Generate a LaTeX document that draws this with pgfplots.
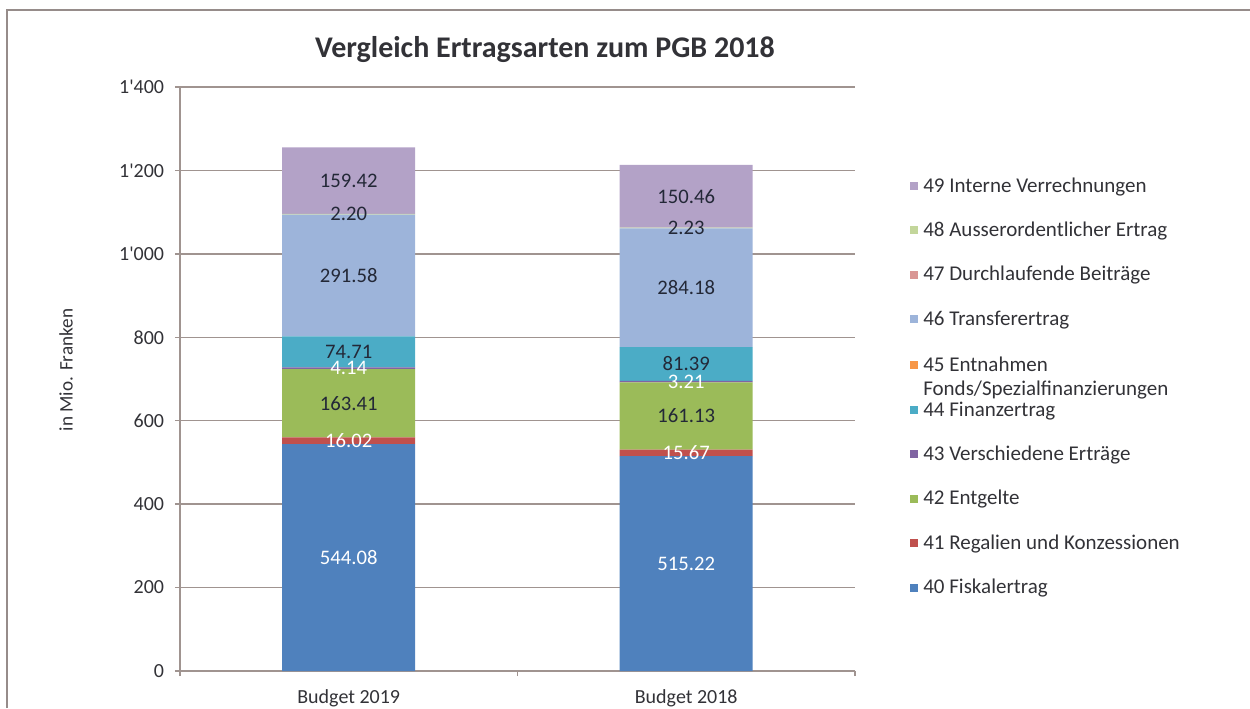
\documentclass[border=0pt]{standalone}
\usepackage{pgfplots}
\pgfplotsset{compat=1.18}
\usepackage{fontspec}
\setmainfont{Carlito}
\definecolor{c40}{HTML}{4F81BD}
\definecolor{c41}{HTML}{C0504D}
\definecolor{c42}{HTML}{9BBB59}
\definecolor{c43}{HTML}{8064A2}
\definecolor{c44}{HTML}{4BACC6}
\definecolor{c45}{HTML}{F79646}
\definecolor{c46}{HTML}{9DB4DA}
\definecolor{c47}{HTML}{D99694}
\definecolor{c48}{HTML}{C3D69B}
\definecolor{c49}{HTML}{B3A2C7}
\definecolor{gridc}{RGB}{160,148,144}
\definecolor{txtc}{RGB}{50,50,55}
\definecolor{lblc}{RGB}{35,40,55}
\definecolor{framec}{RGB}{150,140,138}
\begin{document}
\begin{tikzpicture}[x=0.6pt,y=0.6pt]
\path[use as bounding box] (0,0) rectangle (1250,708);
\draw[framec, line width=1pt] (7,0) -- (7,698) -- (1250,698);
\node[font=\fontsize{18}{21}\selectfont\bfseries, text=txtc] at (545,658) {Vergleich Ertragsarten zum PGB 2018};
\node[rotate=90, font=\fontsize{11.5}{13}\selectfont, text=txtc] at (66,338) {in Mio. Franken};
\begin{axis}[
  at={(108pt,22.2pt)}, anchor=south west,
  scale only axis, width=405pt, height=350.4pt,
  ybar stacked, bar width=79.8pt,
  /pgf/number format/assume math mode=true,
  xmin=-0.5, xmax=1.5,
  xtick={0,1}, xticklabels={Budget 2019,Budget 2018},
  minor xtick={-0.5,0.5,1.5},
  ymin=0, ymax=1400,
  ytick={0,200,400,600,800,1000,1200,1400},
  yticklabels={0,200,400,600,800,1\textquotesingle000,1\textquotesingle200,1\textquotesingle400},
  ymajorgrids, grid style={color=gridc, line width=0.8pt},
  axis x line*=bottom, axis y line*=left,
  axis line style={color=gridc, line width=0.8pt, -},
  tick align=outside,
  major x tick style={draw=none},
  minor x tick style={color=gridc, line width=0.8pt},
  minor tick length=3pt,
  major tick length=3pt,
  y tick style={color=gridc, line width=0.8pt},
  tick label style={font=\fontsize{12}{14}\selectfont, text=txtc},
  yticklabel style={xshift=-3pt},
  xticklabel style={yshift=-4.5pt},
  visualization depends on={rawy \as \rawy},
  nodes near coords style={anchor=center, font=\fontsize{12.4}{14}\selectfont},
  legend style={at={(rel axis cs:1.074,0.857)}, anchor=north west, draw=none, fill=none,
     font=\fontsize{12.6}{14.4}\selectfont, text=txtc, row sep=12.4pt,
     /tikz/every odd column/.append style={column sep=1pt}},
  legend cell align=left,
  reverse legend,
  legend image code/.code={\fill[#1,draw=none] (0pt,-2.4pt) rectangle (4.8pt,2.4pt);},
]
\addplot[fill=c40, draw=none, nodes near coords={\pgfmathprintnumber[fixed,fixed zerofill,precision=2]{\rawy}}, every node near coord/.append style={text=white}]
  coordinates {(0,544.08) (1,515.22)};
\addplot[fill=c41, draw=none, nodes near coords={\pgfmathprintnumber[fixed,fixed zerofill,precision=2]{\rawy}}, every node near coord/.append style={text=white}]
  coordinates {(0,16.02) (1,15.67)};
\addplot[fill=c42, draw=none, nodes near coords={\pgfmathprintnumber[fixed,fixed zerofill,precision=2]{\rawy}}, every node near coord/.append style={text=lblc}]
  coordinates {(0,163.41) (1,161.13)};
\addplot[fill=c43, draw=none, nodes near coords={\pgfmathprintnumber[fixed,fixed zerofill,precision=2]{\rawy}}, every node near coord/.append style={text=white}]
  coordinates {(0,4.14) (1,3.21)};
\addplot[fill=c44, draw=none, nodes near coords={\pgfmathprintnumber[fixed,fixed zerofill,precision=2]{\rawy}}, every node near coord/.append style={text=lblc}]
  coordinates {(0,74.71) (1,81.39)};
\addplot[fill=c45, draw=none]
  coordinates {(0,0) (1,0)};
\addplot[fill=c46, draw=none, nodes near coords={\pgfmathprintnumber[fixed,fixed zerofill,precision=2]{\rawy}}, every node near coord/.append style={text=lblc}]
  coordinates {(0,291.58) (1,284.18)};
\addplot[fill=c47, draw=none]
  coordinates {(0,0) (1,0)};
\addplot[fill=c48, draw=none, nodes near coords={\pgfmathprintnumber[fixed,fixed zerofill,precision=2]{\rawy}}, every node near coord/.append style={text=lblc}]
  coordinates {(0,2.20) (1,2.23)};
\addplot[fill=c49, draw=none, nodes near coords={\pgfmathprintnumber[fixed,fixed zerofill,precision=2]{\rawy}}, every node near coord/.append style={text=lblc}]
  coordinates {(0,159.42) (1,150.46)};
\addlegendentry{40 Fiskalertrag}
\addlegendentry{41 Regalien und Konzessionen}
\addlegendentry{42 Entgelte}
\addlegendentry{43 Verschiedene Erträge}
\addlegendentry{44 Finanzertrag}
\addlegendentry{\raisebox{0pt}[\height][0pt]{\begin{tabular}[t]{@{}l@{}}45 Entnahmen\\Fonds/Spezialfinanzierungen\end{tabular}}}
\addlegendentry{46 Transferertrag}
\addlegendentry{47 Durchlaufende Beiträge}
\addlegendentry{48 Ausserordentlicher Ertrag}
\addlegendentry{49 Interne Verrechnungen}
\end{axis}
\end{tikzpicture}
\end{document}
